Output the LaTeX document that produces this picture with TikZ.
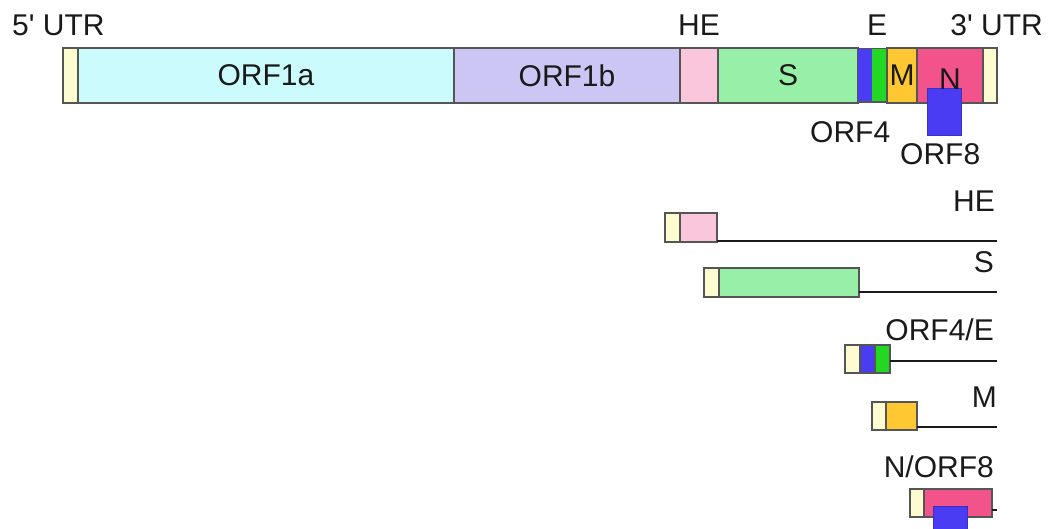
\documentclass[tikz,border=0pt]{standalone}
\usepackage{fontspec}
\setmainfont{Liberation Sans}
\definecolor{edge}{HTML}{555555}
\definecolor{txt}{HTML}{1A1A1A}
\definecolor{utr}{HTML}{FDFBD0}
\definecolor{orfa}{HTML}{CCFBFD}
\definecolor{orfb}{HTML}{CCC6F5}
\definecolor{hecol}{HTML}{F9C6DC}
\definecolor{scol}{HTML}{98F0A8}
\definecolor{bluecol}{HTML}{4A3CF2}
\definecolor{ecol}{HTML}{22D822}
\definecolor{mcol}{HTML}{FFC832}
\definecolor{ncol}{HTML}{F2538A}
\begin{document}
\begin{tikzpicture}[x=1pt,y=-1pt,
  seg/.style={draw=edge, line width=1.5pt, inner sep=0pt, outer sep=0pt, anchor=north west},
  lbl/.style={font=\fontsize{30}{36}\selectfont, text=txt, inner sep=0pt},
  rna/.style={draw=txt, line width=2.2pt}]
\useasboundingbox (0,0) rectangle (1051,529);
\clip (0,0) rectangle (1051,529);
\fill[white] (0,0) rectangle (1051,529);
% ---------- genome ----------
\node[seg, fill=utr,  minimum width=15pt,  minimum height=55pt] (u5)   at (63,48) {};
\node[seg, fill=orfa, minimum width=376pt, minimum height=55pt] (o1a)  at (78,48) {};
\node[seg, fill=orfb, minimum width=226pt, minimum height=55pt] (o1b)  at (454,48) {};
\node[seg, fill=hecol,minimum width=38pt,  minimum height=55pt] (gHE)  at (680,48) {};
\node[seg, fill=scol, minimum width=140pt, minimum height=55pt] (gS)   at (718,48) {};
\node[seg, fill=bluecol, draw=none, minimum width=14pt, minimum height=53.5pt] (g4) at (858,48.75) {};
\node[seg, fill=ecol, draw=none, minimum width=15pt, minimum height=53.5pt] (gE) at (872,48.75) {};
\node[seg, fill=mcol, minimum width=30pt,  minimum height=55pt] (gM)   at (887,48) {};
\node[seg, fill=ncol, minimum width=66pt,  minimum height=55pt] (gN)   at (917,48) {};
\node[seg, fill=utr,  minimum width=14pt,  minimum height=55pt] (u3)   at (983,48) {};
\draw[edge, line width=1.5pt] (g4.north west) -- (gE.north east) (g4.south west) -- (gE.south east);
\node[seg, fill=bluecol, draw=bluecol!80!black, line width=0.6pt, minimum width=34pt, minimum height=47pt] (g8) at (927,88) {};
\node[lbl] at (o1a.center) {ORF1a};
\node[lbl] at (o1b.center) {ORF1b};
\node[lbl] at (gS.center) {S};
\node[lbl] at (gM.center) {M};
\node[lbl] at ([yshift=-4pt]gN.center) {N};
\node[lbl, anchor=base west] (l5) at (12,36) {5\textquotesingle{} UTR};
\node[lbl, anchor=base] (lHE) at (699,36) {HE};
\node[lbl, anchor=base] (lE) at (877,36) {E};
\node[lbl, anchor=base east] (l3) at (1043,36) {3\textquotesingle{} UTR};
\node[lbl, anchor=base west] (l4) at (810,143) {ORF4};
\node[lbl, anchor=base west] (l8) at (900,165) {ORF8};
% ---------- subgenomic HE ----------
\coordinate (heEnd) at (997,241);
\node[seg, fill=utr,   minimum width=15pt, minimum height=29pt] (hL) at (665,213) {};
\node[seg, fill=hecol, minimum width=37pt, minimum height=29pt] (hB) at (680,213) {};
\draw[rna] (heEnd -| hB.east) -- (heEnd);
\node[lbl, anchor=base east] at (995,212) {HE};
% ---------- subgenomic S ----------
\coordinate (sEnd) at (997,292);
\node[seg, fill=utr,  minimum width=15pt,  minimum height=29pt] (sL) at (704,268) {};
\node[seg, fill=scol, minimum width=140pt, minimum height=29pt] (sB) at (719,268) {};
\draw[rna] (sEnd -| sB.east) -- (sEnd);
\node[lbl, anchor=base east] at (994,272) {S};
% ---------- subgenomic ORF4/E ----------
\coordinate (eEnd) at (997,361);
\node[seg, fill=utr, minimum width=15pt, minimum height=28pt] (eL) at (845,345) {};
\node[seg, fill=bluecol, minimum width=15pt, minimum height=28pt] (eB4) at (860,345) {};
\node[seg, fill=ecol, minimum width=15pt, minimum height=28pt] (eBE) at (875,345) {};
\draw[rna] (eEnd -| eBE.east) -- (eEnd);
\node[lbl, anchor=base east] at (994,340) {ORF4/E};
% ---------- subgenomic M ----------
\coordinate (mEnd) at (997,427);
\node[seg, fill=utr,  minimum width=14pt, minimum height=28pt] (mL) at (872,402) {};
\node[seg, fill=mcol, minimum width=31pt, minimum height=28pt] (mB) at (886,402) {};
\draw[rna] (mEnd -| mB.east) -- (mEnd);
\node[lbl, anchor=base east] at (997,407) {M};
% ---------- subgenomic N/ORF8 ----------
\coordinate (nEnd) at (997,510);
\node[seg, fill=utr,  minimum width=14pt, minimum height=28pt] (nL) at (910,489) {};
\node[seg, fill=ncol, minimum width=68pt, minimum height=28pt] (nB) at (924,489) {};
\draw[rna] (nEnd -| nB.east) -- (nEnd);
\node[seg, fill=bluecol, draw=bluecol!80!black, line width=0.6pt, minimum width=34pt, minimum height=40pt] (n8) at (933,506) {};
\node[lbl, anchor=base east] at (994,477) {N/ORF8};
\end{tikzpicture}
\end{document}
